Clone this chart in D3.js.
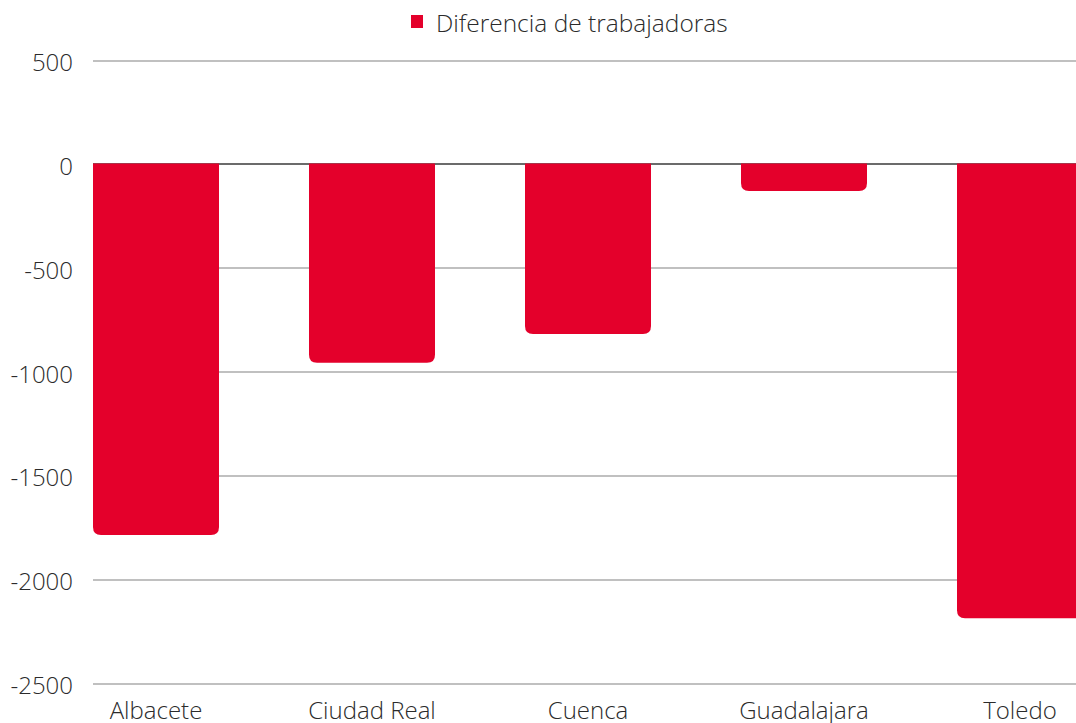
<!DOCTYPE html>
<html>
<head>
<meta charset="utf-8">
<script src="https://cdn.jsdelivr.net/npm/d3@7"></script>
<style>
  html, body { margin: 0; padding: 0; background: #fff; overflow: hidden; }
  svg { display: block; font-family: "Open Sans", sans-serif; font-weight: 300; }
</style>
</head>
<body>
<script>
'use strict';

// data
const provinces = ["Albacete", "Ciudad Real", "Cuenca", "Guadalajara", "Toledo"];
const diferencia = [-1785, -955, -816, -128, -2186];
const yTicks = [500, 0, -500, -1000, -1500, -2000, -2500];
const seriesName = "Diferencia de trabajadoras";

const width = 1076, height = 723;
const red = "#e4002b";

const svg = d3.select("body").append("svg")
  .attr("width", width)
  .attr("height", height);

// step 216px, bars 126px wide, first bar starting at the axis line
const x = d3.scaleBand()
  .domain(provinces)
  .range([93, 1083])
  .paddingInner(90 / 216)
  .paddingOuter(0)
  .align(0);

const y = d3.scaleLinear()
  .domain([-2500, 500])
  .range([683.5, 60.7]);

// gridlines
svg.append("g")
  .selectAll("line")
  .data(yTicks)
  .join("line")
    .attr("x1", 93)
    .attr("x2", width)
    .attr("y1", (d) => Math.round(y(d)))
    .attr("y2", (d) => Math.round(y(d)))
    .attr("stroke", (d) => d === 0 ? "#6b6b6b" : "#c0c0c0")
    .attr("stroke-width", 2);

// y labels
svg.append("g")
  .selectAll("text")
  .data(yTicks)
  .join("text")
    .attr("x", 73)
    .attr("y", (d) => y(d) + 10.5)
    .attr("text-anchor", "end")
    .attr("font-size", 24)
    .attr("fill", "#2b2b2b")
    .text((d) => d);

// bars with rounded bottom corners
const r = 8;
function barPath(d, i) {
  const x0 = x(provinces[i]);
  const w = x.bandwidth();
  const top = y(0) - 1;
  const bot = y(d);
  const rr = Math.min(r, (bot - top) / 2);
  return `M${x0},${top}H${x0 + w}V${bot - rr}` +
    `Q${x0 + w},${bot} ${x0 + w - rr},${bot}H${x0 + rr}` +
    `Q${x0},${bot} ${x0},${bot - rr}Z`;
}

svg.append("g")
  .selectAll("path")
  .data(diferencia)
  .join("path")
    .attr("d", barPath)
    .attr("fill", red);

// x labels (cut by the bottom edge, as in the reference)
svg.append("g")
  .selectAll("text")
  .data(provinces)
  .join("text")
    .attr("x", (d) => x(d) + x.bandwidth() / 2)
    .attr("y", 719)
    .attr("text-anchor", "middle")
    .attr("font-size", 24)
    .attr("fill", "#2b2b2b")
    .text((d) => d);

// legend
const legend = svg.append("g");
legend.append("rect")
  .attr("x", 411)
  .attr("y", 15)
  .attr("width", 12)
  .attr("height", 13)
  .attr("fill", red);
legend.append("text")
  .attr("x", 436)
  .attr("y", 32)
  .attr("font-size", 24.5)
  .attr("fill", "#2b2b2b")
  .text(seriesName);
</script>
</body>
</html>
